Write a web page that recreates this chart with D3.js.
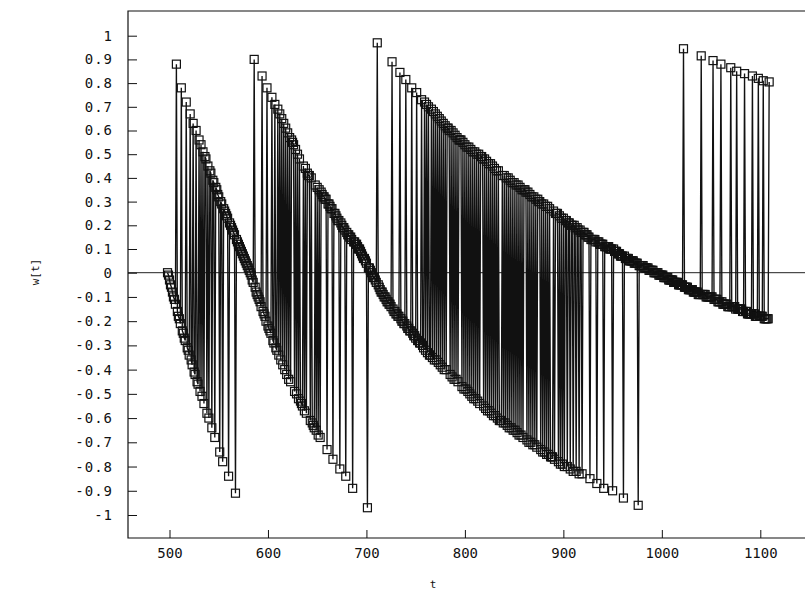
<!DOCTYPE html>
<html><head><meta charset="utf-8">
<script src="https://cdn.jsdelivr.net/npm/d3@7"></script>
<style>body{margin:0;background:#fff}svg{display:block}</style>
</head><body>
<svg id="c" width="805" height="592"></svg>
<script>
// time index of the first sample; one sample per integer t
const tFirst = 498;
// w[t], 10 values per line (comment = first t of the line)
const wValues = [
/*498*/ 0.00,-0.01,-0.03,-0.05,-0.06,-0.08,-0.10,-0.11,-0.13,0.88,
/*508*/ -0.16,-0.18,-0.19,-0.21,0.78,-0.24,-0.25,-0.27,-0.28,0.72,
/*518*/ -0.31,-0.32,-0.34,0.67,-0.36,-0.38,0.63,-0.41,-0.42,0.60,
/*528*/ -0.45,-0.46,0.56,-0.49,0.54,-0.51,0.51,-0.54,0.49,0.48,
/*538*/ -0.58,0.45,-0.60,0.43,0.42,-0.64,0.39,0.38,-0.68,0.36,
/*548*/ 0.35,0.33,0.32,-0.74,0.30,0.29,-0.78,0.27,0.26,0.25,
/*558*/ 0.24,0.23,-0.84,0.21,0.20,0.19,0.18,0.17,0.16,-0.91,
/*568*/ 0.14,0.13,0.12,0.11,0.10,0.09,0.08,0.07,0.06,0.05,
/*578*/ 0.04,0.03,0.02,0.01,0.00,-0.01,-0.03,-0.04,0.90,-0.06,
/*588*/ -0.08,-0.09,-0.10,-0.11,-0.12,-0.14,0.83,-0.16,-0.17,-0.18,
/*598*/ -0.20,0.78,-0.22,-0.23,-0.24,-0.25,0.74,-0.28,-0.29,0.71,
/*608*/ -0.31,-0.32,0.69,-0.34,0.67,-0.36,0.65,-0.38,0.63,-0.40,
/*618*/ 0.61,-0.42,0.59,-0.44,0.57,-0.45,0.56,0.55,0.54,-0.49,
/*628*/ 0.52,-0.50,0.50,-0.52,0.48,-0.53,-0.54,-0.55,0.45,-0.57,
/*638*/ 0.44,-0.58,0.42,0.41,0.41,-0.61,0.40,-0.62,-0.63,-0.64,
/*648*/ 0.37,-0.65,0.36,-0.67,0.35,-0.68,0.34,0.33,0.32,0.32,
/*658*/ 0.31,0.31,-0.73,0.29,0.29,0.28,0.27,0.27,-0.77,0.25,
/*668*/ 0.25,0.24,0.23,0.22,0.22,-0.81,0.21,0.20,0.19,0.19,
/*678*/ 0.18,-0.84,0.17,0.16,0.16,0.15,0.15,0.14,-0.89,0.13,
/*688*/ 0.13,0.12,0.12,0.11,0.10,0.10,0.09,0.08,0.07,0.06,
/*698*/ 0.06,0.05,0.04,-0.97,0.02,0.02,0.01,0.00,-0.01,-0.02,
/*708*/ -0.02,-0.03,-0.04,0.97,-0.05,-0.06,-0.07,-0.08,-0.08,-0.09,
/*718*/ -0.10,-0.10,-0.11,-0.12,-0.12,-0.13,-0.13,-0.14,0.89,-0.15,
/*728*/ -0.16,-0.16,-0.17,-0.17,-0.18,-0.18,0.845,-0.19,-0.20,-0.20,
/*738*/ -0.21,-0.21,0.815,-0.22,-0.23,-0.23,-0.24,-0.24,0.78,-0.25,
/*748*/ -0.26,-0.26,-0.27,0.76,-0.28,-0.28,-0.29,-0.29,0.73,-0.30,
/*758*/ -0.31,0.72,-0.32,0.71,-0.33,0.70,-0.34,-0.34,0.69,-0.35,
/*768*/ 0.68,-0.36,0.67,-0.36,0.66,-0.37,0.65,-0.38,0.64,-0.39,
/*778*/ 0.63,-0.40,0.62,-0.40,0.61,0.61,0.60,-0.42,0.60,-0.43,
/*788*/ 0.59,-0.44,0.58,-0.44,0.57,-0.45,0.56,0.56,0.56,-0.47,
/*798*/ 0.55,-0.48,0.54,-0.48,0.53,-0.49,0.53,-0.50,0.52,-0.51,
/*808*/ 0.51,-0.52,0.51,-0.52,0.50,-0.53,0.50,-0.54,0.49,0.49,
/*818*/ 0.48,-0.55,0.48,-0.56,0.47,-0.57,0.46,-0.57,0.46,-0.58,
/*828*/ 0.45,-0.59,0.44,-0.59,0.43,-0.60,0.43,-0.61,-0.61,-0.61,
/*838*/ 0.41,-0.62,0.41,-0.62,0.40,-0.63,0.40,-0.64,0.39,-0.64,
/*848*/ 0.38,-0.65,0.38,-0.65,0.37,-0.66,0.37,-0.67,0.36,-0.67,
/*858*/ 0.35,-0.68,0.35,0.35,0.34,-0.69,0.34,-0.70,0.33,-0.70,
/*868*/ 0.32,-0.71,0.32,-0.71,0.31,-0.72,0.31,0.30,0.30,-0.73,
/*878*/ 0.29,-0.74,0.29,-0.74,0.28,-0.75,0.28,-0.75,0.27,-0.76,
/*888*/ -0.76,-0.76,0.26,-0.77,0.25,0.25,0.25,-0.78,0.24,-0.79,
/*898*/ 0.23,-0.79,0.23,-0.80,0.22,0.22,-0.80,0.21,0.21,-0.81,
/*908*/ 0.20,0.20,-0.82,0.20,0.19,-0.82,0.19,0.18,-0.83,0.18,
/*918*/ 0.17,-0.83,0.17,0.17,0.16,0.16,0.16,0.15,0.15,-0.85,
/*928*/ 0.14,0.14,0.14,0.14,0.14,0.13,-0.87,0.13,0.13,0.12,
/*938*/ 0.12,0.12,0.12,-0.89,0.11,0.11,0.11,0.11,0.11,0.10,
/*948*/ 0.10,0.10,-0.90,0.10,0.09,0.09,0.09,0.08,0.08,0.08,
/*958*/ 0.07,0.07,0.07,-0.93,0.07,0.06,0.06,0.06,0.06,0.05,
/*968*/ 0.05,0.05,0.05,0.05,0.04,0.04,0.04,0.04,-0.96,0.03,
/*978*/ 0.03,0.03,0.03,0.03,0.02,0.02,0.02,0.02,0.02,0.01,
/*988*/ 0.01,0.01,0.01,0.01,0.00,0.00,0.00,0.00,0.00,-0.01,
/*998*/ -0.01,-0.01,-0.01,-0.01,-0.02,-0.02,-0.02,-0.02,-0.02,-0.03,
/*1008*/ -0.03,-0.03,-0.03,-0.03,-0.04,-0.04,-0.04,-0.04,-0.04,-0.05,
/*1018*/ -0.05,-0.05,-0.05,-0.05,0.945,-0.06,-0.06,-0.06,-0.06,-0.07,
/*1028*/ -0.07,-0.07,-0.07,-0.07,-0.08,-0.08,-0.08,-0.08,-0.08,-0.09,
/*1038*/ -0.09,-0.09,0.915,-0.09,-0.09,-0.09,-0.09,-0.10,-0.10,-0.10,
/*1048*/ -0.10,-0.10,-0.10,-0.10,0.895,-0.11,-0.11,-0.11,-0.11,-0.12,
/*1058*/ -0.12,-0.12,0.88,-0.12,-0.13,-0.13,-0.13,-0.13,-0.13,-0.14,
/*1068*/ -0.14,-0.14,0.865,-0.14,-0.14,-0.14,-0.14,-0.15,0.85,-0.15,
/*1078*/ -0.15,-0.15,-0.15,-0.15,-0.16,-0.16,0.84,-0.16,-0.16,-0.17,
/*1088*/ -0.17,-0.17,-0.17,-0.17,0.83,-0.17,-0.17,-0.18,-0.18,-0.18,
/*1098*/ 0.82,-0.18,-0.18,-0.18,-0.18,0.81,-0.19,-0.19,-0.19,-0.19,
/*1108*/ -0.19,0.805
];
const xTickValues = [500, 600, 700, 800, 900, 1000, 1100];
const yTickValues = [-1, -0.9, -0.8, -0.7, -0.6, -0.5, -0.4, -0.3, -0.2, -0.1, 0, 0.1, 0.2, 0.3, 0.4, 0.5, 0.6, 0.7, 0.8, 0.9, 1];
const yTickLabels = ["-1","-0.9","-0.8","-0.7","-0.6","-0.5","-0.4","-0.3","-0.2","-0.1","0","0.1","0.2","0.3","0.4","0.5","0.6","0.7","0.8","0.9","1"];
const xLabel = "t", yLabel = "w[t]";

const W = 805, H = 592;
const L = 128, T = 11, B = 538, R = 812;
const svg = d3.select("#c");
const x = d3.scaleLinear().domain([500, 1100]).range([169.5, 760.3]);
const y = d3.scaleLinear().domain([-1, 0, 1]).range([515, 272.7, 35.7]);
const pts = wValues.map((w, i) => ({ t: tFirst + i, w }));

svg.append("defs").append("clipPath").attr("id", "clip")
  .append("rect").attr("x", L).attr("y", T).attr("width", R - L).attr("height", B - T);

// zero line
svg.append("line").attr("x1", L).attr("x2", W).attr("y1", y(0)).attr("y2", y(0))
  .attr("stroke", "#222").attr("stroke-width", 1);

const g = svg.append("g").attr("clip-path", "url(#clip)");
g.append("path").datum(pts)
  .attr("d", d3.line().x(d => x(d.t)).y(d => y(d.w)))
  .attr("fill", "none").attr("stroke", "#111").attr("stroke-width", 1.35);
g.selectAll("rect.m").data(pts).join("rect").attr("class", "m")
  .attr("x", d => x(d.t) - 4).attr("y", d => y(d.w) - 4)
  .attr("width", 8).attr("height", 8)
  .attr("fill", "none").attr("stroke", "#111").attr("stroke-width", 1.2);

const font = "'DejaVu Sans Mono', monospace";
const yAxis = d3.axisLeft(y).tickValues(yTickValues).tickSize(-9).tickSizeOuter(0).tickPadding(15)
  .tickFormat((d, i) => yTickLabels[i]);
const ya = svg.append("g").attr("transform", `translate(${L},0)`).call(yAxis);
ya.select(".domain").remove();
ya.selectAll("line").attr("stroke", "#111");
ya.selectAll("text").attr("font-family", font).attr("font-size", 14).attr("fill", "#111").attr("letter-spacing", "1px");

const xAxis = d3.axisBottom(x).tickValues(xTickValues).tickSize(-8).tickSizeOuter(0).tickPadding(10).tickFormat(d3.format("d"));
const xa = svg.append("g").attr("transform", `translate(0,${B})`).call(xAxis);
xa.select(".domain").remove();
xa.selectAll("line").attr("stroke", "#111");
xa.selectAll("text").attr("font-family", font).attr("font-size", 14).attr("fill", "#111");

// frame
svg.append("path").attr("d", `M${W},${T}H${L}V${B}H${W}`).attr("fill", "none").attr("stroke", "#111").attr("stroke-width", 1.2);

svg.append("text").attr("x", 433).attr("y", 588).attr("text-anchor", "middle")
  .attr("font-family", font).attr("font-size", 11).attr("fill", "#111").text(xLabel);
svg.append("text").attr("transform", "translate(39,272) rotate(-90)").attr("text-anchor", "middle")
  .attr("font-family", font).attr("font-size", 11).attr("fill", "#111").text(yLabel);
</script>
</body></html>
